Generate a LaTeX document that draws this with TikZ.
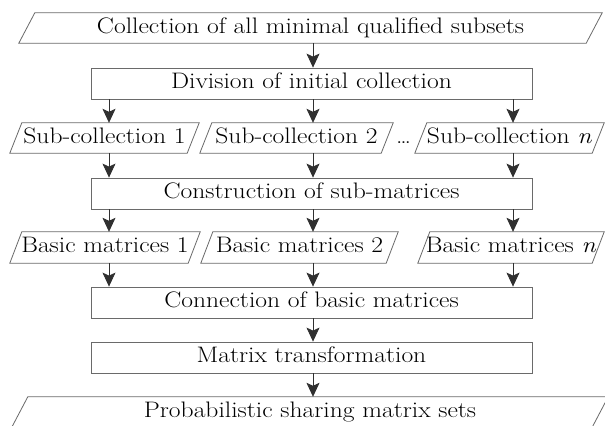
\documentclass[tikz,border=0pt]{standalone}
\usepackage{fontspec}
\usepackage{graphicx}
\usetikzlibrary{arrows.meta}
\definecolor{edgegray}{HTML}{6A6A6A}
\definecolor{arrgray}{HTML}{303030}
\newcommand{\wt}[1]{\scalebox{1.14}[1]{#1}}
\tikzset{
  txt/.style={font=\rmfamily\fontsize{22.5}{25}\selectfont, text=black, text height=15bp, text depth=5bp, inner sep=0pt},
  boxnode/.style={txt, draw=edgegray, line width=0.8bp, minimum width=441bp, minimum height=31bp},
  paranode/.style={txt, minimum height=30bp},
  paraline/.style={draw=edgegray, line width=0.8bp},
  arr/.style={draw=arrgray, line width=0.8bp, -{Stealth[length=14bp,width=13bp,inset=3bp]}, shorten >=0pt}
}
\newcommand{\parashape}[2]{\draw[paraline] ([xshift=#2]#1.north west) -- (#1.north east) -- ([xshift=-#2]#1.south east) -- (#1.south west) -- cycle;}
\begin{document}
\begin{tikzpicture}[x=1bp,y=-1bp]
\useasboundingbox (0,0) rectangle (605,425);
\clip (0,0) rectangle (605,425);
\fill[white] (0,0) rectangle (605,425);
% columns
\coordinate (c1) at (109,0);
\coordinate (c2) at (313,0);
\coordinate (c3) at (513,0);
% top
\node[paranode, minimum width=583bp] (top) at (310.5,28) {\wt{Collection of all minimal qualified subsets}};
\parashape{top}{16bp}
% boxes
\node[boxnode] (div) at (311.5,83.5) {\wt{Division of initial collection}};
\node[boxnode] (cons) at (311.5,193.5) {\wt{Construction of sub-matrices}};
\node[boxnode] (conn) at (311.5,302.5) {\wt{Connection of basic matrices}};
\node[boxnode] (mat) at (311.5,357.5) {\wt{Matrix transformation}};
% sub-collections
\node[paranode, minimum width=189bp] (s1) at (104.5,138) {\wt{Sub-collection 1}};
\node[paranode, minimum width=193bp] (s2) at (296.5,138) {\wt{Sub-collection 2}};
\node[paranode, minimum width=189bp] (sn) at (509.5,138) {\wt{Sub-collection \textit{n}}};
\node[txt] (dots) at (403.5,138) {\wt{\ldots}};
\parashape{s1}{12bp}
\parashape{s2}{12bp}
\parashape{sn}{12bp}
% basic matrices
\node[paranode, minimum width=190bp, minimum height=31bp] (b1) at (105,247.5) {\wt{Basic matrices 1}};
\node[paranode, minimum width=197bp, minimum height=31bp] (b2) at (299.5,247.5) {\wt{Basic matrices 2}};
\node[paranode, minimum width=186bp, minimum height=31bp] (bn) at (511,247.5) {\wt{Basic matrices \textit{n}}};
\parashape{b1}{12bp}
\parashape{b2}{12bp}
\parashape{bn}{12bp}
% bottom
\node[paranode, minimum width=596bp] (bot) at (310,412) {\wt{Probabilistic sharing matrix sets}};
\parashape{bot}{16bp}
% arrows
\draw[arr] (top.south -| c2) -- (div.north -| c2);
\foreach \c in {c1,c2,c3}{
  \draw[arr] (div.south -| \c) -- (s1.north -| \c);
}
\draw[arr] (s1.south -| c1) -- (cons.north -| c1);
\draw[arr] (s2.south -| c2) -- (cons.north -| c2);
\draw[arr] (sn.south -| c3) -- (cons.north -| c3);
\draw[arr] (cons.south -| c1) -- (b1.north -| c1);
\draw[arr] (cons.south -| c2) -- (b2.north -| c2);
\draw[arr] (cons.south -| c3) -- (bn.north -| c3);
\draw[arr] (b1.south -| c1) -- (conn.north -| c1);
\draw[arr] (b2.south -| c2) -- (conn.north -| c2);
\draw[arr] (bn.south -| c3) -- (conn.north -| c3);
\draw[arr] (conn.south -| c2) -- (mat.north -| c2);
\draw[arr] (mat.south -| c2) -- (bot.north -| c2);
\end{tikzpicture}
\end{document}
